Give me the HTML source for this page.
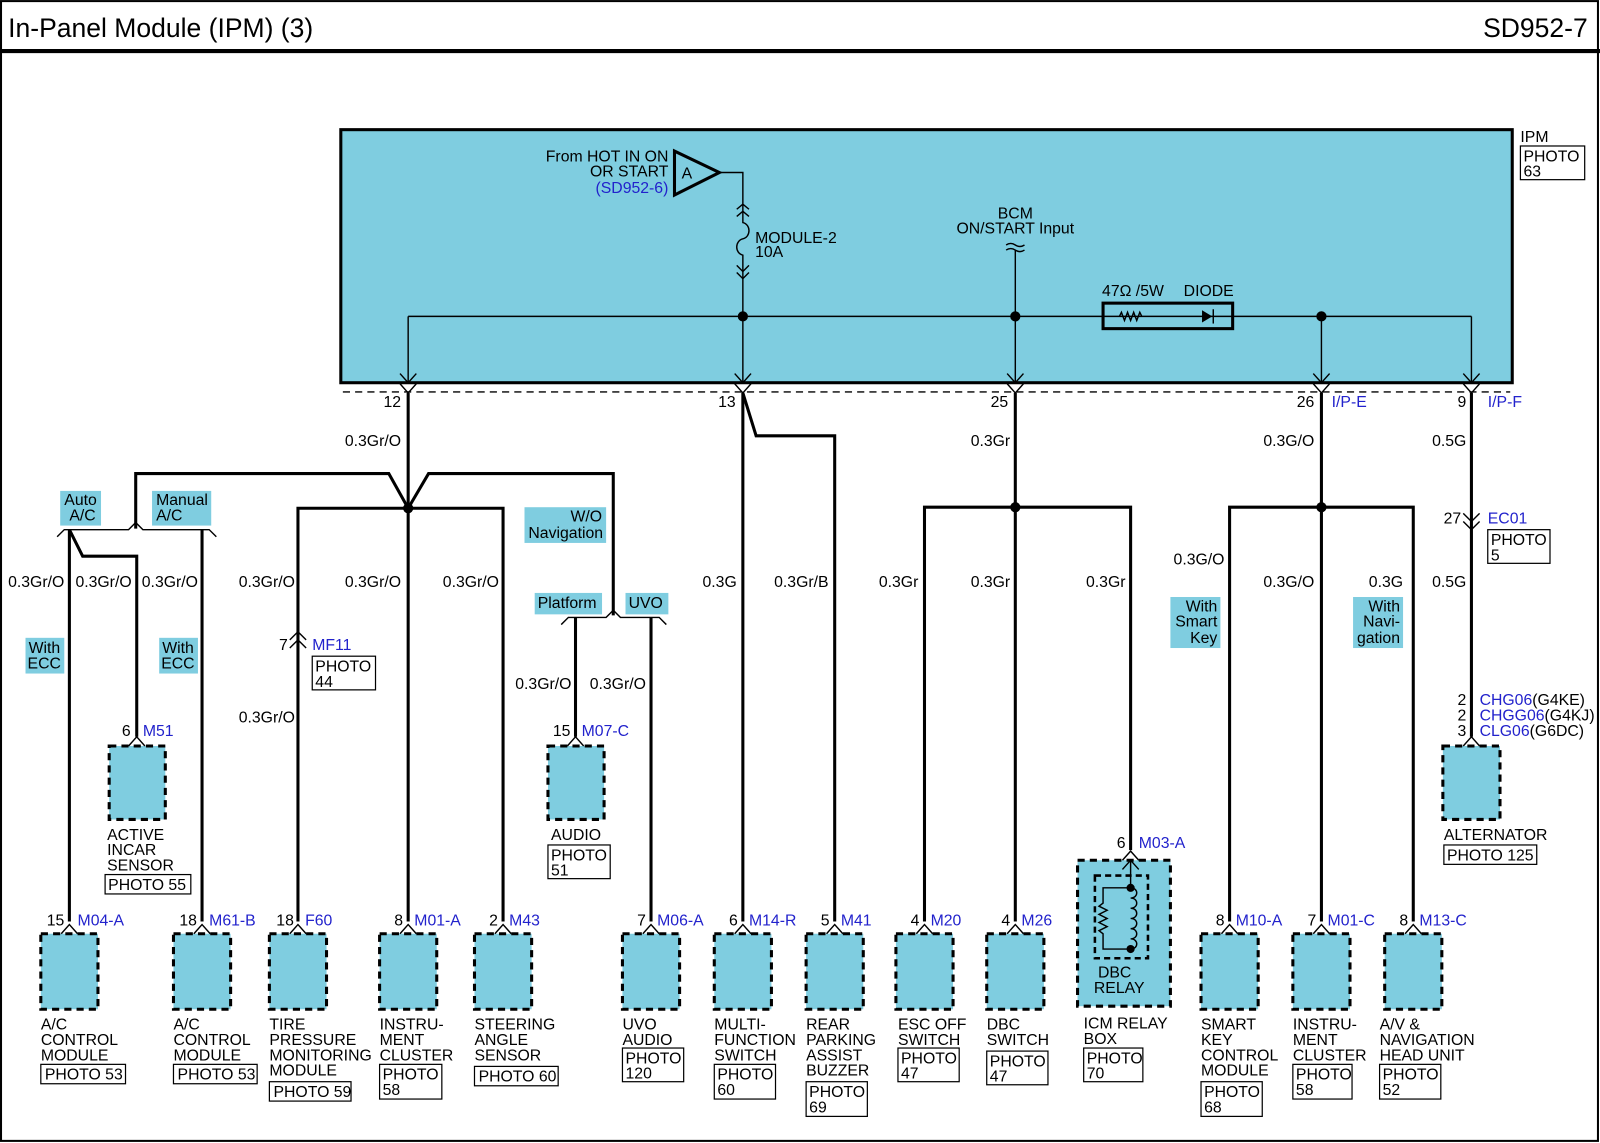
<!DOCTYPE html>
<html><head><meta charset="utf-8"><style>
html,body{margin:0;padding:0;background:#fff}
svg{display:block}
text{font-family:"Liberation Sans",Arial,sans-serif;font-size:15.5px;fill:#000}
.b{fill:#2222cc}
.t{fill:#7fcde0}
.w{stroke:#000;stroke-width:3;fill:none}
.n{stroke:#000;stroke-width:1.4;fill:none}
.bx{fill:#7fcde0;stroke:#000;stroke-width:3;stroke-dasharray:7,5}
.pb{fill:#fff;stroke:#000;stroke-width:1.2}
</style></head><body>
<svg width="1600" height="1143" viewBox="0 0 1568 1120" xmlns="http://www.w3.org/2000/svg">
<rect x="1" y="1" width="1565" height="1117" fill="#fff" stroke="#000" stroke-width="2"/>
<text x="8" y="36" style="font-size:26px">In-Panel Module (IPM) (3)</text>
<text x="1556" y="36" text-anchor="end" style="font-size:26px">SD952-7</text>
<line x1="0" y1="50" x2="1568" y2="50" stroke="#000" stroke-width="4"/>

<!-- IPM box -->
<rect x="334" y="127" width="1148" height="248" fill="#7fcde0" stroke="#000" stroke-width="3"/>
<text x="1490" y="139">IPM</text>
<rect class="pb" x="1490" y="143" width="63" height="33"/>
<text x="1493" y="158">PHOTO</text><text x="1493" y="173">63</text>

<text x="655" y="158" text-anchor="end">From HOT IN ON</text>
<text x="655" y="173" text-anchor="end">OR START</text>
<text x="655" y="189" text-anchor="end" class="b">(SD952-6)</text>
<polygon points="661,148 661,191 705,169" fill="none" stroke="#000" stroke-width="3"/>
<text x="668" y="175">A</text>
<polyline class="n" points="705,169 728,169 728,200"/>
<polyline class="n" points="722,205 728,200 734,205"/><polyline class="n" points="722,212 728,207 734,212"/>
<path class="n" d="M728,200 V218 C736,220 736,232 728,234 C720,236 720,248 728,250 V272"/>
<polyline class="n" points="722,260 728,266 734,260"/><polyline class="n" points="722,267 728,273 734,267"/>
<line class="n" x1="728" y1="273" x2="728" y2="375"/>
<text x="740" y="238">MODULE-2</text><text x="740" y="252">10A</text>

<text x="995" y="214" text-anchor="middle">BCM</text>
<text x="995" y="229" text-anchor="middle">ON/START Input</text>
<path class="n" d="M986,240 q4.5,-3 9,0 t9,0 M986,245 q4.5,-3 9,0 t9,0"/>
<line class="n" x1="995" y1="245" x2="995" y2="375"/>

<line class="n" x1="400" y1="310" x2="1442" y2="310"/>
<line class="n" x1="400" y1="310" x2="400" y2="375"/>
<line class="n" x1="1295" y1="310" x2="1295" y2="375"/>
<line class="n" x1="1442" y1="310" x2="1442" y2="375"/>
<circle cx="728" cy="310" r="5"/><circle cx="995" cy="310" r="5"/><circle cx="1295" cy="310" r="5"/>
<text x="1080" y="290">47Ω /5W</text><text x="1160" y="290">DIODE</text>
<rect x="1081" y="297" width="127" height="25" fill="#7fcde0" stroke="#000" stroke-width="3"/>
<line class="n" x1="1081" y1="310" x2="1208" y2="310"/>
<polyline class="n" points="1097,310 1099,306 1102,314 1105,306 1108,314 1111,306 1114,314 1117,306 1119,310"/>
<polygon points="1178,304 1178,316 1188,310"/><line class="n" x1="1189" y1="303" x2="1189" y2="317"/>

<!-- IPM bottom connectors -->
<line x1="336" y1="384" x2="1480" y2="384" stroke="#000" stroke-width="1.3" stroke-dasharray="7,5"/>
<g class="n">
<polyline points="392,366 400,375 408,366"/><polyline points="392,376 400,385 408,376"/>
<polyline points="720,366 728,375 736,366"/><polyline points="720,376 728,385 736,376"/>
<polyline points="987,366 995,375 1003,366"/><polyline points="987,376 995,385 1003,376"/>
<polyline points="1287,366 1295,375 1303,366"/><polyline points="1287,376 1295,385 1303,376"/>
<polyline points="1434,366 1442,375 1450,366"/><polyline points="1434,376 1442,385 1450,376"/>
</g>
<text x="393" y="399" text-anchor="end">12</text>
<text x="721" y="399" text-anchor="end">13</text>
<text x="988" y="399" text-anchor="end">25</text>
<text x="1288" y="399" text-anchor="end">26</text><text x="1305" y="399" class="b">I/P-E</text>
<text x="1437" y="399" text-anchor="end">9</text><text x="1458" y="399" class="b">I/P-F</text>

<!-- wire 12 tree -->
<line class="w" x1="400" y1="385" x2="400" y2="903"/>
<circle cx="400" cy="498" r="5"/>
<text x="393" y="437" text-anchor="end">0.3Gr/O</text>
<polyline class="w" points="400,498 381,464 133,464 133,518"/>
<polyline class="w" points="400,498 420,464 601,464 601,603"/>
<polyline class="w" points="292,903 292,498 493,498 493,903"/>
<polyline class="n" points="56,526 63,519 126,519 133,512 140,519 205,519 212,526"/>
<line class="w" x1="68" y1="519" x2="68" y2="903"/>
<polyline class="w" points="68,519 81,545 134,545 134,722"/>
<line class="w" x1="198" y1="519" x2="198" y2="903"/>
<polyline class="n" points="550,612 557,605 594,605 601,598 608,605 646,605 653,612"/>
<line class="w" x1="564" y1="605" x2="564" y2="722"/>
<line class="w" x1="638" y1="605" x2="638" y2="903"/>
<polyline class="n" points="284,627 292,619 300,627"/><polyline class="n" points="284,635 292,627 300,635"/>
<text x="282" y="637" text-anchor="end">7</text><text x="306" y="637" class="b">MF11</text>
<rect class="pb" x="306" y="643" width="62" height="33"/><text x="309" y="658">PHOTO</text><text x="309" y="673">44</text>

<rect class="t" x="59" y="481" width="40" height="34"/><text x="63" y="495">Auto</text><text x="68" y="510">A/C</text>
<rect class="t" x="149" y="481" width="58" height="34"/><text x="153" y="495">Manual</text><text x="153" y="510">A/C</text>
<rect class="t" x="25" y="625" width="38" height="35"/><text x="28" y="640">With</text><text x="27" y="655">ECC</text>
<rect class="t" x="156" y="625" width="38" height="35"/><text x="159" y="640">With</text><text x="158" y="655">ECC</text>
<rect class="t" x="514" y="497" width="80" height="35"/><text x="590" y="511" text-anchor="end">W/O</text><text x="591" y="527" text-anchor="end">Navigation</text>
<rect class="t" x="524" y="581" width="66" height="21"/><text x="527" y="596">Platform</text>
<rect class="t" x="613" y="581" width="42" height="21"/><text x="616" y="596">UVO</text>

<g text-anchor="end">
<text x="63" y="575">0.3Gr/O</text><text x="129" y="575">0.3Gr/O</text><text x="194" y="575">0.3Gr/O</text>
<text x="289" y="575">0.3Gr/O</text><text x="393" y="575">0.3Gr/O</text><text x="489" y="575">0.3Gr/O</text>
<text x="289" y="708">0.3Gr/O</text>
<text x="560" y="675">0.3Gr/O</text><text x="633" y="675">0.3Gr/O</text>
<text x="722" y="575">0.3G</text><text x="812" y="575">0.3Gr/B</text>
<text x="900" y="575">0.3Gr</text><text x="990" y="575">0.3Gr</text><text x="1103" y="575">0.3Gr</text>
<text x="990" y="437">0.3Gr</text>
<text x="1288" y="437">0.3G/O</text><text x="1437" y="437">0.5G</text>
<text x="1200" y="553">0.3G/O</text><text x="1288" y="575">0.3G/O</text><text x="1375" y="575">0.3G</text>
<text x="1437" y="575">0.5G</text>
</g>

<line class="w" x1="728" y1="385" x2="728" y2="903"/>
<polyline class="w" points="728,385 741,427 818,427 818,903"/>
<line class="w" x1="995" y1="385" x2="995" y2="903"/>
<polyline class="w" points="906,903 906,497 1108,497 1108,833"/>
<circle cx="995" cy="497" r="5"/>
<line class="w" x1="1295" y1="385" x2="1295" y2="903"/>
<polyline class="w" points="1205,903 1205,497 1385,497 1385,903"/>
<circle cx="1295" cy="497" r="5"/>
<rect class="t" x="1147" y="585" width="49" height="50"/><text x="1193" y="599" text-anchor="end">With</text><text x="1193" y="614" text-anchor="end">Smart</text><text x="1193" y="630" text-anchor="end">Key</text>
<rect class="t" x="1326" y="585" width="49" height="50"/><text x="1372" y="599" text-anchor="end">With</text><text x="1372" y="614" text-anchor="end">Navi-</text><text x="1372" y="630" text-anchor="end">gation</text>
<line class="w" x1="1442" y1="385" x2="1442" y2="722"/>
<polyline class="n" points="1434,503 1442,511 1450,503"/><polyline class="n" points="1434,511 1442,519 1450,511"/>
<text x="1432" y="513" text-anchor="end">27</text><text x="1458" y="513" class="b">EC01</text>
<rect class="pb" x="1458" y="519" width="61" height="33"/><text x="1461" y="534">PHOTO</text><text x="1461" y="549">5</text>
<text x="1437" y="691" text-anchor="end">2</text><text x="1450" y="691"><tspan class="b">CHG06</tspan>(G4KE)</text>
<text x="1437" y="706" text-anchor="end">2</text><text x="1450" y="706"><tspan class="b">CHGG06</tspan>(G4KJ)</text>
<text x="1437" y="721" text-anchor="end">3</text><text x="1450" y="721"><tspan class="b">CLG06</tspan>(G6DC)</text>

<rect class="bx" x="107" y="731" width="55" height="72"/>
<polyline class="n" points="126,731 134,722 142,731"/>
<text x="128" y="721" text-anchor="end">6</text><text x="140" y="721" class="b">M51</text>
<text x="105" y="823">ACTIVE</text><text x="105" y="838">INCAR</text><text x="105" y="853">SENSOR</text>
<rect class="pb" x="103" y="857" width="84" height="19"/><text x="106" y="872">PHOTO 55</text>

<rect class="bx" x="537" y="731" width="55" height="72"/>
<polyline class="n" points="556,731 564,722 572,731"/>
<text x="559" y="721" text-anchor="end">15</text><text x="570" y="721" class="b">M07-C</text>
<text x="540" y="823">AUDIO</text>
<rect class="pb" x="537" y="828" width="61" height="33"/><text x="540" y="843">PHOTO</text><text x="540" y="858">51</text>

<rect class="bx" x="1414" y="731" width="56" height="72"/>
<polyline class="n" points="1434,731 1442,722 1450,731"/>
<text x="1415" y="823">ALTERNATOR</text>
<rect class="pb" x="1415" y="828" width="91" height="19"/><text x="1418" y="843">PHOTO 125</text>

<g>
<rect class="bx" x="40" y="915" width="56" height="74"/><polyline class="n" points="60,915 68,906 76,915"/>
<text x="63" y="907" text-anchor="end">15</text><text x="76" y="907" class="b">M04-A</text>
<text x="40" y="1009">A/C</text><text x="40" y="1024">CONTROL</text><text x="40" y="1039">MODULE</text>
<rect class="pb" x="40" y="1043" width="83" height="19"/><text x="44" y="1058">PHOTO 53</text>

<rect class="bx" x="170" y="915" width="56" height="74"/><polyline class="n" points="190,915 198,906 206,915"/>
<text x="193" y="907" text-anchor="end">18</text><text x="205" y="907" class="b">M61-B</text>
<text x="170" y="1009">A/C</text><text x="170" y="1024">CONTROL</text><text x="170" y="1039">MODULE</text>
<rect class="pb" x="170" y="1043" width="82" height="19"/><text x="174" y="1058">PHOTO 53</text>

<rect class="bx" x="264" y="915" width="56" height="74"/><polyline class="n" points="284,915 292,906 300,915"/>
<text x="288" y="907" text-anchor="end">18</text><text x="299" y="907" class="b">F60</text>
<text x="264" y="1009">TIRE</text><text x="264" y="1024">PRESSURE</text><text x="264" y="1039">MONITORING</text><text x="264" y="1054">MODULE</text>
<rect class="pb" x="264" y="1060" width="80" height="19"/><text x="268" y="1075">PHOTO 59</text>

<rect class="bx" x="372" y="915" width="56" height="74"/><polyline class="n" points="392,915 400,906 408,915"/>
<text x="395" y="907" text-anchor="end">8</text><text x="406" y="907" class="b">M01-A</text>
<text x="372" y="1009">INSTRU-</text><text x="372" y="1024">MENT</text><text x="372" y="1039">CLUSTER</text>
<rect class="pb" x="372" y="1043" width="61" height="34"/><text x="375" y="1058">PHOTO</text><text x="375" y="1073">58</text>

<rect class="bx" x="465" y="915" width="56" height="74"/><polyline class="n" points="485,915 493,906 501,915"/>
<text x="488" y="907" text-anchor="end">2</text><text x="499" y="907" class="b">M43</text>
<text x="465" y="1009">STEERING</text><text x="465" y="1024">ANGLE</text><text x="465" y="1039">SENSOR</text>
<rect class="pb" x="465" y="1045" width="82" height="19"/><text x="469" y="1060">PHOTO 60</text>

<rect class="bx" x="610" y="915" width="56" height="74"/><polyline class="n" points="630,915 638,906 646,915"/>
<text x="633" y="907" text-anchor="end">7</text><text x="644" y="907" class="b">M06-A</text>
<text x="610" y="1009">UVO</text><text x="610" y="1024">AUDIO</text>
<rect class="pb" x="610" y="1027" width="60" height="33"/><text x="613" y="1042">PHOTO</text><text x="613" y="1057">120</text>

<rect class="bx" x="700" y="915" width="56" height="74"/><polyline class="n" points="720,915 728,906 736,915"/>
<text x="723" y="907" text-anchor="end">6</text><text x="734" y="907" class="b">M14-R</text>
<text x="700" y="1009">MULTI-</text><text x="700" y="1024">FUNCTION</text><text x="700" y="1039">SWITCH</text>
<rect class="pb" x="700" y="1043" width="60" height="34"/><text x="703" y="1058">PHOTO</text><text x="703" y="1073">60</text>

<rect class="bx" x="790" y="915" width="56" height="74"/><polyline class="n" points="810,915 818,906 826,915"/>
<text x="813" y="907" text-anchor="end">5</text><text x="824" y="907" class="b">M41</text>
<text x="790" y="1009">REAR</text><text x="790" y="1024">PARKING</text><text x="790" y="1039">ASSIST</text><text x="790" y="1054">BUZZER</text>
<rect class="pb" x="790" y="1060" width="60" height="34"/><text x="793" y="1075">PHOTO</text><text x="793" y="1090">69</text>

<rect class="bx" x="878" y="915" width="56" height="74"/><polyline class="n" points="898,915 906,906 914,915"/>
<text x="901" y="907" text-anchor="end">4</text><text x="912" y="907" class="b">M20</text>
<text x="880" y="1009">ESC OFF</text><text x="880" y="1024">SWITCH</text>
<rect class="pb" x="880" y="1027" width="60" height="33"/><text x="883" y="1042">PHOTO</text><text x="883" y="1057">47</text>

<rect class="bx" x="967" y="915" width="56" height="74"/><polyline class="n" points="987,915 995,906 1003,915"/>
<text x="990" y="907" text-anchor="end">4</text><text x="1001" y="907" class="b">M26</text>
<text x="967" y="1009">DBC</text><text x="967" y="1024">SWITCH</text>
<rect class="pb" x="967" y="1030" width="60" height="33"/><text x="970" y="1045">PHOTO</text><text x="970" y="1060">47</text>

<rect class="bx" x="1056" y="843" width="91" height="143"/>
<polyline class="n" points="1100,843 1108,834 1116,843"/>
<polyline class="n" points="1100,852 1108,843 1116,852"/>
<line class="n" x1="1108" y1="843" x2="1108" y2="870"/>
<text x="1103" y="831" text-anchor="end">6</text><text x="1116" y="831" class="b">M03-A</text>
<rect x="1073" y="858" width="52" height="81" fill="none" stroke="#000" stroke-width="2.5" stroke-dasharray="6,4"/>
<polyline class="n" points="1108,870 1081,870 1081,885 1077,888 1085,892 1077,896 1085,900 1077,904 1085,908 1077,912 1081,915 1081,930 1108,930"/>
<path class="n" d="M1108,870 c8,0 8,10 0,10 c8,0 8,10 0,10 c8,0 8,10 0,10 c8,0 8,10 0,10 c8,0 8,10 0,10 c8,0 8,10 0,10"/>
<circle cx="1108" cy="870" r="4"/><circle cx="1108" cy="930" r="4"/>
<text x="1076" y="958">DBC</text><text x="1072" y="973">RELAY</text>
<text x="1062" y="1008">ICM RELAY</text><text x="1062" y="1023">BOX</text>
<rect class="pb" x="1062" y="1027" width="58" height="33"/><text x="1065" y="1042">PHOTO</text><text x="1065" y="1057">70</text>

<rect class="bx" x="1177" y="915" width="56" height="74"/><polyline class="n" points="1197,915 1205,906 1213,915"/>
<text x="1200" y="907" text-anchor="end">8</text><text x="1211" y="907" class="b">M10-A</text>
<text x="1177" y="1009">SMART</text><text x="1177" y="1024">KEY</text><text x="1177" y="1039">CONTROL</text><text x="1177" y="1054">MODULE</text>
<rect class="pb" x="1177" y="1060" width="60" height="34"/><text x="1180" y="1075">PHOTO</text><text x="1180" y="1090">68</text>

<rect class="bx" x="1267" y="915" width="56" height="74"/><polyline class="n" points="1287,915 1295,906 1303,915"/>
<text x="1290" y="907" text-anchor="end">7</text><text x="1301" y="907" class="b">M01-C</text>
<text x="1267" y="1009">INSTRU-</text><text x="1267" y="1024">MENT</text><text x="1267" y="1039">CLUSTER</text>
<rect class="pb" x="1267" y="1043" width="58" height="34"/><text x="1270" y="1058">PHOTO</text><text x="1270" y="1073">58</text>

<rect class="bx" x="1357" y="915" width="56" height="74"/><polyline class="n" points="1377,915 1385,906 1393,915"/>
<text x="1380" y="907" text-anchor="end">8</text><text x="1391" y="907" class="b">M13-C</text>
<text x="1352" y="1009">A/V &amp;</text><text x="1352" y="1024">NAVIGATION</text><text x="1352" y="1039">HEAD UNIT</text>
<rect class="pb" x="1352" y="1043" width="60" height="34"/><text x="1355" y="1058">PHOTO</text><text x="1355" y="1073">52</text>
</g>
</svg>
</body></html>
